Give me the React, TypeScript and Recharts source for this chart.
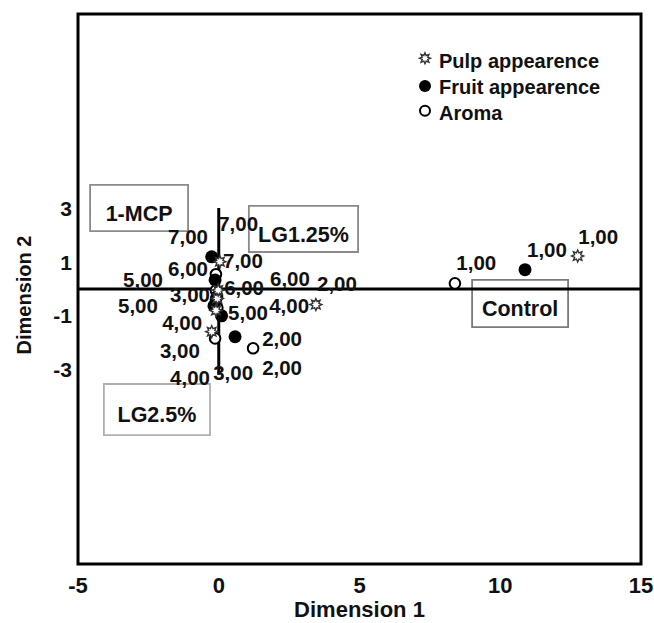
import React from 'react';
import {
  ScatterChart,
  Scatter,
  XAxis,
  YAxis,
  ReferenceLine,
  ReferenceArea,
  Legend,
  Label,
} from 'recharts';

const FONT = '"Liberation Sans", Arial, Helvetica, sans-serif';

// axes
const xDomain: [number, number] = [-5, 15];
const yDomain: [number, number] = [-10.25, 10.25];
const xTicks = [-5, 0, 5, 10, 15];
const yTicks = [-3, -1, 1, 3];
const xTitle = 'Dimension 1';
const yTitle = 'Dimension 2';

// series (category quantification points)
const seriesNames = ['Pulp appearence', 'Fruit appearence', 'Aroma'];

const pulpAppearence = [
  { x: 12.75, y: 1.23, cat: '1,00' },
  { x: 3.45, y: -0.58, cat: '2,00' },
  { x: -0.25, y: -1.59, cat: '3,00' },
  { x: -0.1, y: -0.8, cat: '4,00' },
  { x: -0.05, y: -0.35, cat: '5,00' },
  { x: -0.02, y: -0.04, cat: '6,00' },
  { x: 0.04, y: 1.02, cat: '7,00' },
];

const fruitAppearence = [
  { x: 10.88, y: 0.72, cat: '1,00' },
  { x: 0.58, y: -1.78, cat: '2,00' },
  { x: -0.07, y: -0.29, cat: '3,00' },
  { x: 0.1, y: -1.0, cat: '4,00' },
  { x: -0.17, y: -0.63, cat: '5,00' },
  { x: -0.13, y: 0.34, cat: '6,00' },
  { x: -0.25, y: 1.2, cat: '7,00' },
];

const aroma = [
  { x: 8.39, y: 0.21, cat: '1,00' },
  { x: 1.22, y: -2.21, cat: '2,00' },
  { x: -0.13, y: -1.84, cat: '3,00' },
  { x: -0.05, y: -0.7, cat: '4,00' },
  { x: -0.1, y: -0.4, cat: '5,00' },
  { x: -0.1, y: -0.05, cat: '6,00' },
  { x: -0.1, y: 0.55, cat: '7,00' },
];

// category labels (anchor in data units)
const pointLabels = [
  { x: -1.09, y: 1.94, text: '7,00' },
  { x: 0.69, y: 2.43, text: '7,00' },
  { x: 0.86, y: 1.08, text: '7,00' },
  { x: -1.09, y: 0.78, text: '6,00' },
  { x: -2.69, y: 0.34, text: '5,00' },
  { x: -1.02, y: -0.22, text: '3,00' },
  { x: 0.9, y: 0.04, text: '6,00' },
  { x: 2.53, y: 0.41, text: '6,00' },
  { x: 4.2, y: 0.22, text: '2,00' },
  { x: -2.87, y: -0.6, text: '5,00' },
  { x: 1.04, y: -0.86, text: '5,00' },
  { x: 2.5, y: -0.6, text: '4,00' },
  { x: -1.3, y: -1.23, text: '4,00' },
  { x: 2.25, y: -1.83, text: '2,00' },
  { x: -1.38, y: -2.28, text: '3,00' },
  { x: 2.25, y: -2.91, text: '2,00' },
  { x: -1.02, y: -3.28, text: '4,00' },
  { x: 0.51, y: -3.13, text: '3,00' },
  { x: 9.15, y: 0.97, text: '1,00' },
  { x: 11.66, y: 1.48, text: '1,00' },
  { x: 13.48, y: 1.94, text: '1,00' },
];

// treatment boxes (data units)
const boxNames = ['1-MCP', 'LG1.25%', 'LG2.5%', 'Control'];
const boxX1 = [-4.57, 1.07, -4.08, 9.0];
const boxX2 = [-1.09, 4.95, -0.31, 12.41];
const boxY1 = [2.16, 1.38, -5.45, -1.42];
const boxY2 = [3.88, 3.1, -3.54, 0.34];
const boxStroke = ['#8a8a8a', '#8a8a8a', '#b0b0b0', '#7a7a7a'];

const vSegment = [
  { x: 0, y: -3.2 },
  { x: 0, y: 3.02 },
];

const StarMark = ({ cx, cy, r = 6 }: { cx: number; cy: number; r?: number }) => {
  const pts: string[] = [];
  for (let i = 0; i < 16; i++) {
    const a = (Math.PI * i) / 8 - Math.PI / 2;
    const rr = i % 2 === 0 ? r : r * 0.55;
    pts.push(`${cx + rr * Math.cos(a)},${cy + rr * Math.sin(a)}`);
  }
  return <polygon points={pts.join(' ')} fill="#fff" stroke="#333" strokeWidth={1.4} />;
};

const FilledMark = ({ cx, cy, r = 6.5 }: { cx: number; cy: number; r?: number }) => (
  <circle cx={cx} cy={cy} r={r} fill="#000" />
);

const OpenMark = ({ cx, cy, r = 5.3 }: { cx: number; cy: number; r?: number }) => (
  <circle cx={cx} cy={cy} r={r} fill="#fff" stroke="#000" strokeWidth={2} />
);

const markers = [StarMark, FilledMark, OpenMark];

const renderLegend = (props: any) => {
  const items = (props.payload || []).filter((p: any) => seriesNames.includes(p.value));
  const iconY = [15.3, 43, 67.7];
  const textY = [18, 43.5, 69.5];
  return (
    <svg width={240} height={100} style={{ overflow: 'visible' }}>
      {items.map((it: any) => {
        const idx = seriesNames.indexOf(it.value);
        const M = markers[idx];
        const size = idx === 0 ? 5.5 : idx === 1 ? 6 : 5;
        return (
          <g key={it.value}>
            <M cx={12} cy={iconY[idx]} r={size} />
            <text
              x={26}
              y={textY[idx]}
              dominantBaseline="central"
              fontFamily={FONT}
              fontWeight="bold"
              fontSize={20}
              fill="#111"
            >
              {it.value}
            </text>
          </g>
        );
      })}
    </svg>
  );
};

const xTickStyle = { fill: '#111', fontSize: 22, fontWeight: 'bold', fontFamily: FONT };
const yTickStyle = { fill: '#111', fontSize: 21, fontWeight: 'bold', fontFamily: FONT };

export default function App() {
  return (
    <div style={{ position: 'fixed', left: 8, top: 8, width: 646, height: 615, background: '#fff' }}>
      <ScatterChart width={646} height={615} margin={{ top: 6, right: 13, bottom: 0, left: 0 }}>
        <XAxis
          type="number"
          dataKey="x"
          domain={xDomain}
          ticks={xTicks}
          interval={0}
          allowDataOverflow
          tickLine={false}
          axisLine={false}
          tickMargin={7}
          height={59}
          tick={xTickStyle}
        >
          <Label
            value={xTitle}
            position="insideBottom"
            offset={6}
            fill="#111"
            fontSize={22}
            fontWeight="bold"
            fontFamily={FONT}
          />
        </XAxis>
        <YAxis
          type="number"
          dataKey="y"
          domain={yDomain}
          ticks={yTicks}
          interval={0}
          allowDataOverflow
          tickLine={false}
          axisLine={false}
          tickMargin={0}
          width={70}
          tick={yTickStyle}
        >
          <Label
            content={(p: any) => {
              const vb = p.viewBox || { x: 0, y: 6, width: 70, height: 550 };
              const cx = vb.x + 16;
              const cy = vb.y + vb.height / 2 + 6;
              return (
                <text
                  x={cx}
                  y={cy}
                  transform={`rotate(-90, ${cx}, ${cy})`}
                  textAnchor="middle"
                  dominantBaseline="central"
                  fontFamily={FONT}
                  fontWeight="bold"
                  fontSize={20}
                  fill="#111"
                >
                  {yTitle}
                </text>
              );
            }}
          />
        </YAxis>

        {boxNames.map((name, i) => (
          <ReferenceArea
            key={name}
            x1={boxX1[i]}
            x2={boxX2[i]}
            y1={boxY1[i]}
            y2={boxY2[i]}
            fill="#fff"
            fillOpacity={1}
            stroke={boxStroke[i]}
            strokeWidth={1.8}
            ifOverflow="visible"
            label={{
              value: name,
              position: 'center',
              fill: '#111',
              fontSize: 21.5,
              fontWeight: 'bold',
              fontFamily: FONT,
              dy: 5,
            }}
          />
        ))}

        <ReferenceLine y={0} stroke="#000" strokeWidth={3} />
        <ReferenceLine segment={vSegment} stroke="#000" strokeWidth={3} ifOverflow="visible" />

        <Scatter
          name="labels"
          data={pointLabels}
          legendType="none"
          isAnimationActive={false}
          shape={(p: any) => (
            <text
              x={p.cx}
              y={p.cy}
              textAnchor="middle"
              dominantBaseline="central"
              fontFamily={FONT}
              fontWeight="bold"
              fontSize={20.5}
              fill="#111"
            >
              {p.payload.text}
            </text>
          )}
        />
        <Scatter
          name={seriesNames[2]}
          data={aroma}
          fill="#000"
          isAnimationActive={false}
          shape={(p: any) => <OpenMark cx={p.cx} cy={p.cy} />}
        />
        <Scatter
          name={seriesNames[1]}
          data={fruitAppearence}
          fill="#000"
          isAnimationActive={false}
          shape={(p: any) => <FilledMark cx={p.cx} cy={p.cy} />}
        />
        <Scatter
          name={seriesNames[0]}
          data={pulpAppearence}
          fill="#000"
          isAnimationActive={false}
          shape={(p: any) => <StarMark cx={p.cx} cy={p.cy} />}
        />

        <ReferenceArea
          x1={xDomain[0]}
          x2={xDomain[1]}
          y1={yDomain[0]}
          y2={yDomain[1]}
          fill="none"
          stroke="#000"
          strokeWidth={3}
          ifOverflow="visible"
        />

        <Legend
          layout="vertical"
          align="center"
          verticalAlign="middle"
          content={renderLegend}
          wrapperStyle={{ position: 'absolute', left: 405, top: 35, width: 240, height: 100 }}
        />
      </ScatterChart>
    </div>
  );
}
